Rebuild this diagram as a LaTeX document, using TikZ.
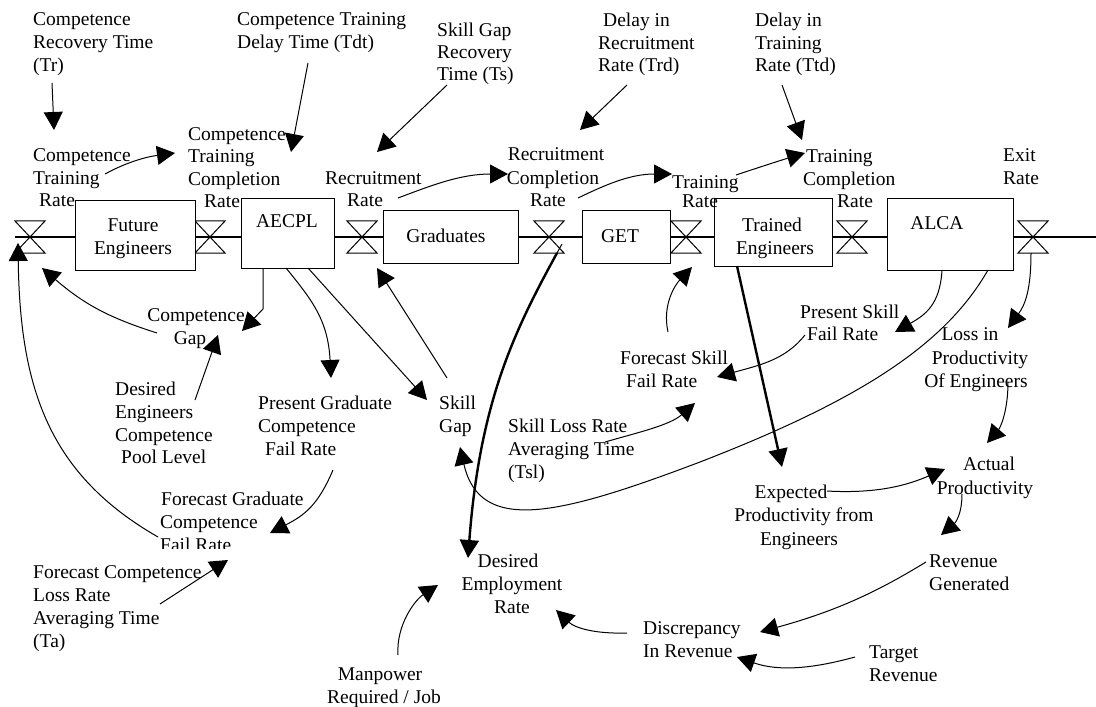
\documentclass[tikz,border=0pt]{standalone}
\usepackage{fontspec}
\setmainfont{Liberation Serif}
\usetikzlibrary{arrows.meta}
\begin{document}
\begin{tikzpicture}[x=1pt,y=-1pt,
  lbl/.style={font=\fontsize{19.5}{23}\selectfont, inner sep=0pt},
  arr/.style={line width=1pt, -{Triangle[length=18pt,width=19pt]}},
  tarr/.style={line width=2.4pt, -{Triangle[length=18pt,width=19pt]}},
  flow/.style={line width=2.4pt},
  stock/.style={draw, fill=white, line width=1pt, inner sep=0pt},
  valve/.style={inner sep=0pt, minimum width=30pt, minimum height=32pt}]
\useasboundingbox (0,0) rectangle (1096,707);
% main flow line
\coordinate (fs) at (15,237);
\coordinate (fe) at (1096,237);
\draw[flow] (fs) -- (fe);
% valves
\foreach \n/\x in {v1/30,v2/210,v3/362,v4/549,v5/686,v6/852,v7/1033}{
  \node[valve] (\n) at (\x,237) {};
  \draw[line width=1pt] (\n.north west) -- (\n.north east) -- (\n.south west) -- (\n.south east) -- cycle;
}
% stocks
\node[stock, minimum width=120pt, minimum height=70pt] (futeng) at (135,235) {};
\node[stock, minimum width=93pt, minimum height=70pt] (aecpl) at (287.5,233) {};
\node[stock, minimum width=135pt, minimum height=53pt] (grad) at (450.5,236.5) {};
\node[stock, minimum width=88pt, minimum height=53pt] (get) at (626,236.5) {};
\node[stock, minimum width=118pt, minimum height=68pt] (trained) at (773,232) {};
\node[stock, minimum width=126pt, minimum height=72pt] (alca) at (950,234) {};
\node[lbl, anchor=base] (tfe1) at (133,231) {Future};
\node[lbl, anchor=base] (tfe2) at (133,254) {Engineers};
\node[lbl, anchor=base] (taecpl) at (287,227) {AECPL};
\node[lbl, anchor=base] (tgrad) at (446,242) {Graduates};
\node[lbl, anchor=base] (tget) at (620,242) {GET};
\node[lbl, anchor=base] (tte1) at (772,231) {Trained};
\node[lbl, anchor=base] (tte2) at (775,254) {Engineers};
\node[lbl, anchor=base] (talca) at (937,229) {ALCA};
% top labels
\node[lbl, anchor=base west] (tr1) at (33,25) {Competence};
\node[lbl, anchor=base west] (tr2) at (33,48) {Recovery Time};
\node[lbl, anchor=base west] (tr3) at (33,71) {(Tr)};
\node[lbl, anchor=base west] (tdt1) at (237,25) {Competence Training};
\node[lbl, anchor=base west] (tdt2) at (237,48) {Delay Time (Tdt)};
\node[lbl, anchor=base west] (ts1) at (437,36) {Skill Gap};
\node[lbl, anchor=base west] (ts2) at (437,58) {Recovery};
\node[lbl, anchor=base west] (ts3) at (437,80) {Time (Ts)};
\node[lbl, anchor=base west] (trd1) at (603,26) {Delay in};
\node[lbl, anchor=base west] (trd2) at (598,49) {Recruitment};
\node[lbl, anchor=base west] (trd3) at (598,71) {Rate (Trd)};
\node[lbl, anchor=base west] (ttd1) at (755,26) {Delay in};
\node[lbl, anchor=base west] (ttd2) at (755,49) {Training};
\node[lbl, anchor=base west] (ttd3) at (755,71) {Rate (Ttd)};
% rate labels
\node[lbl, anchor=base west] (ctr1) at (33,161) {Competence};
\node[lbl, anchor=base west] (ctr2) at (33,184) {Training};
\node[lbl, anchor=base west] (ctr3) at (39,206) {Rate};
\node[lbl, anchor=base west] (ctc1) at (188,140) {Competence};
\node[lbl, anchor=base west] (ctc2) at (188,162) {Training};
\node[lbl, anchor=base west] (ctc3) at (188,185) {Completion};
\node[lbl, anchor=base west] (ctc4) at (204,207) {Rate};
\node[lbl, anchor=base west] (rr1) at (325,184) {Recruitment};
\node[lbl, anchor=base west] (rr2) at (347,206) {Rate};
\node[lbl, anchor=base] (rc1) at (556,160) {Recruitment};
\node[lbl, anchor=base] (rc2) at (553,184) {Completion};
\node[lbl, anchor=base] (rc3) at (548,206) {Rate};
\node[lbl, anchor=base west] (trr1) at (672,188) {Training};
\node[lbl, anchor=base west] (trr2) at (682,207) {Rate};
\node[lbl, anchor=base west] (tcr1) at (806,162) {Training};
\node[lbl, anchor=base west] (tcr2) at (803,185) {Completion};
\node[lbl, anchor=base west] (tcr3) at (837,207) {Rate};
\node[lbl, anchor=base west] (ex1) at (1003,161) {Exit};
\node[lbl, anchor=base west] (ex2) at (1003,184) {Rate};
% lower labels
\node[lbl, anchor=base] (cg1) at (196,321) {Competence};
\node[lbl, anchor=base] (cg2) at (190,344) {Gap};
\node[lbl, anchor=base west] (de1) at (115,395) {Desired};
\node[lbl, anchor=base west] (de2) at (115,418) {Engineers};
\node[lbl, anchor=base west] (de3) at (115,441) {Competence};
\node[lbl, anchor=base west] (de4) at (121,463) {Pool Level};
\node[lbl, anchor=base west] (pg1) at (258,409) {Present Graduate};
\node[lbl, anchor=base west] (pg2) at (258,432) {Competence};
\node[lbl, anchor=base west] (pg3) at (265,455) {Fail Rate};
\node[lbl, anchor=base west] (sg1) at (439,409) {Skill};
\node[lbl, anchor=base west] (sg2) at (439,432) {Gap};
\node[lbl, anchor=base west] (fg1) at (161,505) {Forecast Graduate};
\node[lbl, anchor=base west] (fg2) at (160,528) {Competence};
\begin{scope}
  \clip (150,520) rectangle (260,548);
  \node[lbl, anchor=base west] (fg3) at (160,551) {Fail Rate};
\end{scope}
\node[lbl, anchor=base west] (fc1) at (33,578) {Forecast Competence};
\node[lbl, anchor=base west] (fc2) at (33,601) {Loss Rate};
\node[lbl, anchor=base west] (fc3) at (33,624) {Averaging Time};
\node[lbl, anchor=base west] (fc4) at (33,647) {(Ta)};
\node[lbl, anchor=base west] (sl1) at (508,432) {Skill Loss Rate};
\node[lbl, anchor=base west] (sl2) at (508,455) {Averaging Time};
\node[lbl, anchor=base west] (sl3) at (508,478) {(Tsl)};
\node[lbl, anchor=base west] (fs1) at (620,364) {Forecast Skill};
\node[lbl, anchor=base west] (fs2) at (626,387) {Fail Rate};
\node[lbl, anchor=base west] (ps1) at (800,318) {Present Skill};
\node[lbl, anchor=base west] (ps2) at (807,340) {Fail Rate};
\node[lbl, anchor=base] (lp1) at (970,340) {Loss in};
\node[lbl, anchor=base] (lp2) at (980,364) {Productivity};
\node[lbl, anchor=base] (lp3) at (976,387) {Of Engineers};
\node[lbl, anchor=base] (ep1) at (791,498) {Expected};
\node[lbl, anchor=base] (ep2) at (804,521) {Productivity from};
\node[lbl, anchor=base] (ep3) at (799,545) {Engineers};
\node[lbl, anchor=base] (ap1) at (989,470) {Actual};
\node[lbl, anchor=base] (ap2) at (985,494) {Productivity};
\node[lbl, anchor=base] (der1) at (508,567) {Desired};
\node[lbl, anchor=base] (der2) at (512,590) {Employment};
\node[lbl, anchor=base] (der3) at (512,613) {Rate};
\node[lbl, anchor=base] (mp1) at (380,680) {Manpower};
\node[lbl, anchor=base] (mp2) at (384,703) {Required / Job};
\node[lbl, anchor=base west] (rg1) at (929,567) {Revenue};
\node[lbl, anchor=base west] (rg2) at (929,590) {Generated};
\node[lbl, anchor=base west] (dr1) at (643,634) {Discrepancy};
\node[lbl, anchor=base west] (dr2) at (643,657) {In Revenue};
\node[lbl, anchor=base west] (tg1) at (869,658) {Target};
\node[lbl, anchor=base west] (tg2) at (869,681) {Revenue};
% connector end points
\coordinate (a1s) at (52,83);   \coordinate (a1e) at (54,130);
\coordinate (a2s) at (308,63);  \coordinate (a2e) at (291,152);
\coordinate (a3s) at (447,85);  \coordinate (a3e) at (377,152);
\coordinate (a4s) at (627,85);  \coordinate (a4e) at (580,130);
\coordinate (a5s) at (782,85);  \coordinate (a5e) at (802,140);
\coordinate (a6s) at (105,174); \coordinate (a6e) at (175,153);
\coordinate (a7s) at (398,198); \coordinate (a7e) at (508,174);
\coordinate (a8s) at (578,198); \coordinate (a8e) at (672,174);
\coordinate (a9s) at (736,175); \coordinate (a9e) at (805,153);
\coordinate (a10s) at (263,268); \coordinate (a10m) at (263,309); \coordinate (a10e) at (242,331);
\coordinate (a11s) at (157,333); \coordinate (a11e) at (42,268);
\coordinate (a12s) at (195,400); \coordinate (a12e) at (218,335);
\coordinate (a13s) at (286,268); \coordinate (a13e) at (331,378);
\coordinate (a14s) at (308,268); \coordinate (a14e) at (427,400);
\coordinate (a15s) at (447,378); \coordinate (a15e) at (377,268);
\coordinate (a16s) at (333,470); \coordinate (a16e) at (270,533);
\coordinate (a17s) at (158,537); \coordinate (a17e) at (18,243);
\coordinate (a18s) at (160,604); \coordinate (a18e) at (228,560);
\coordinate (a19s) at (398,655); \coordinate (a19e) at (438,585);
\coordinate (a20s) at (557,253); \coordinate (a20e) at (468,558);
\coordinate (a21s) at (988,270); \coordinate (a21m) at (700,462); \coordinate (a21e) at (460,447);
\coordinate (a22s) at (942,270); \coordinate (a22e) at (895,332);
\coordinate (a23s) at (805,335); \coordinate (a23e) at (717,377);
\coordinate (a24s) at (668,332); \coordinate (a24e) at (692,267);
\coordinate (a25s) at (605,442); \coordinate (a25e) at (695,403);
\coordinate (a26s) at (737,266); \coordinate (a26e) at (782,467);
\coordinate (a27s) at (1031,253); \coordinate (a27e) at (1008,328);
\coordinate (a28s) at (1008,382); \coordinate (a28e) at (987,443);
\coordinate (a29s) at (827,491); \coordinate (a29e) at (945,469);
\coordinate (a30s) at (962,494); \coordinate (a30e) at (941,535);
\coordinate (a31s) at (926,562); \coordinate (a31e) at (760,632);
\coordinate (a32s) at (855,657); \coordinate (a32e) at (737,657);
\coordinate (a33s) at (627,633); \coordinate (a33e) at (556,610);
% connectors
\draw[arr] (a1s) -- (a1e);
\draw[arr] (a2s) -- (a2e);
\draw[arr] (a3s) -- (a3e);
\draw[arr] (a4s) -- (a4e);
\draw[arr] (a5s) -- (a5e);
\draw[arr] (a6s) .. controls (125,163) and (145,157) .. (a6e);
\draw[arr] (a7s) .. controls (430,186) and (460,174) .. (a7e);
\draw[arr] (a8s) .. controls (605,185) and (630,174) .. (a8e);
\draw[arr] (a9s) .. controls (760,167) and (785,159) .. (a9e);
\draw[arr] (a10s) -- (a10m) -- (a10e);
\draw[arr] (a11s) .. controls (110,318) and (85,305) .. (a11e);
\draw[arr] (a12s) -- (a12e);
\draw[arr] (a13s) .. controls (312,300) and (328,320) .. (a13e);
\draw[arr] (a14s) -- (a14e);
\draw[arr] (a15s) -- (a15e);
\draw[arr] (a16s) .. controls (318,505) and (305,515) .. (a16e);
\draw[arr] (a17s) .. controls (50,475) and (20,390) .. (a17e);
\draw[arr] (a18s) -- (a18e);
\draw[arr] (a19s) .. controls (396,625) and (415,600) .. (a19e);
\draw[tarr] (a20s) .. controls (515,330) and (480,400) .. (a20e);
\draw[line width=1pt] (a20s) -- ++(5,-9);
\draw[arr] (a21s) .. controls (945,345) and (860,400) .. (a21m) .. controls (560,515) and (480,535) .. (a21e);
\draw[arr] (a22s) .. controls (940,305) and (925,315) .. (a22e);
\draw[arr] (a23s) .. controls (785,360) and (760,365) .. (a23e);
\draw[arr] (a24s) .. controls (662,305) and (675,285) .. (a24e);
\draw[arr] (a25s) .. controls (640,432) and (670,425) .. (a25e);
\draw[tarr] (a26s) -- (a26e);
\draw[arr] (a27s) .. controls (1031,290) and (1025,305) .. (a27e);
\draw[arr] (a28s) .. controls (1008,412) and (1000,428) .. (a28e);
\draw[arr] (a29s) .. controls (880,494) and (910,484) .. (a29e);
\draw[arr] (a30s) .. controls (962,515) and (955,523) .. (a30e);
\draw[arr] (a31s) .. controls (880,590) and (840,610) .. (a31e);
\draw[arr] (a32s) .. controls (815,668) and (780,672) .. (a32e);
\draw[arr] (a33s) .. controls (595,634) and (575,628) .. (a33e);
\end{tikzpicture}
\end{document}
